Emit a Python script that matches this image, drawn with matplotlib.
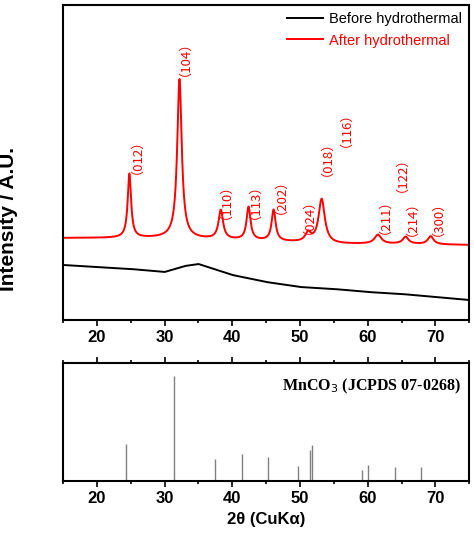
import numpy as np
import matplotlib.pyplot as plt

# peak table of the red pattern (after hydrothermal): position, peak height, labels
red_pos = [24.8, 32.2, 38.3, 42.4, 46.1, 51.2, 53.2, 61.5, 65.6, 69.3]
red_height = [64, 159, 29, 33, 31, 9, 44, 9, 7, 8]
red_width = [0.3, 0.4, 0.4, 0.35, 0.35, 0.5, 0.55, 0.6, 0.5, 0.5]
red_base_x = [15, 30, 45, 55, 65, 75]
red_base_y = [82, 82, 79, 76, 76, 75]

# black pattern (before hydrothermal): amorphous background
black_x = [15, 20, 25, 30, 33, 35, 40, 45, 50, 55, 60, 65, 70, 75]
black_y = [55, 53, 51, 48, 54, 56, 45, 38, 33, 31, 28, 26, 23, 20]

labels = ["012", "104", "110", "113", "202", "024", "018", "116", "211", "122", "214", "300"]
label_x = [24.9, 32.0, 38.1, 42.4, 46.1, 50.3, 53.0, 55.8, 61.5, 64.0, 65.5, 69.3]
label_y = [170, 268, 125, 125, 130, 110, 168, 197, 110, 152, 108, 108]

# MnCO3 reference sticks
ref_pos = [24.3, 31.4, 37.5, 41.5, 45.2, 49.7, 51.5, 51.7, 59.2, 60.1, 64.0, 67.8]
ref_int = [35, 100, 21, 26, 23, 14.5, 29, 34, 10, 15, 13, 13]

x = np.linspace(15, 75, 3000)
red = np.interp(x, red_base_x, red_base_y)
for p, h, w in zip(red_pos, red_height, red_width):
    red = red + h / (1 + ((x - p) / w) ** 2)
black = np.interp(x, black_x, black_y)

plt.rcParams['font.family'] = ['Arial', 'Liberation Sans', 'DejaVu Sans']
fig = plt.figure(figsize=(4.74, 5.47), dpi=100)
ax1 = fig.add_axes([0.133, 0.415, 0.857, 0.576])
ax2 = fig.add_axes([0.133, 0.121, 0.857, 0.215])

ax1.plot(x, black, color='black', lw=1.4, label='Before hydrothermal')
ax1.plot(x, red, color='red', lw=1.4, label='After hydrothermal')
for lab, lx, ly in zip(labels, label_x, label_y):
    ax1.text(lx, ly, "（" + lab + "）", rotation=90, color='red', fontsize=9.5,
             ha='center', va='center', family=['Noto Sans CJK SC', 'DejaVu Sans'])
ax1.set_xlim(15, 75)
ax1.set_ylim(0, 315)
ax1.set_yticks([])
ax1.set_xticks(range(20, 80, 10))
ax1.set_xticks(range(15, 80, 5), minor=True)
ax1.tick_params(axis='x', which='major', labelsize=12, width=1.2, length=4, direction='out')
ax1.tick_params(axis='x', which='minor', width=1.2, length=2.5)
for t in ax1.get_xticklabels():
    t.set_fontweight('bold')
leg = ax1.legend(loc='upper right', frameon=False, fontsize=10.5, handlelength=2.5,
                 borderaxespad=0.1, handletextpad=0.4)
leg.get_texts()[1].set_color('red')
ax1.set_ylabel('Intensity / A.U.', fontsize=15, fontweight='bold')
ax1.yaxis.set_label_coords(-0.11, 0.32)

ax2.vlines(ref_pos, 0, ref_int, color='gray', lw=1)
ax2.set_xlim(15, 75)
ax2.set_ylim(0, 112)
ax2.set_yticks([])
ax2.set_xticks(range(20, 80, 10))
ax2.set_xticks(range(15, 80, 5), minor=True)
ax2.tick_params(axis='x', which='both', top=True, labelsize=12,
                width=1.2, direction='out')
ax2.tick_params(axis='x', which='major', length=4)
ax2.tick_params(axis='x', which='minor', length=2.5)
for t in ax2.get_xticklabels():
    t.set_fontweight('bold')
ax2.text(0.98, 0.80, 'MnCO$_3$ (JCPDS 07-0268)', transform=ax2.transAxes, ha='right',
         va='center', fontsize=11.5, fontweight='bold', family='Liberation Serif')
ax2.set_xlabel('2θ (CuKα)', fontsize=12, fontweight='bold')
for a in (ax1, ax2):
    for s in a.spines.values():
        s.set_linewidth(1.5)

plt.savefig('out.png')
